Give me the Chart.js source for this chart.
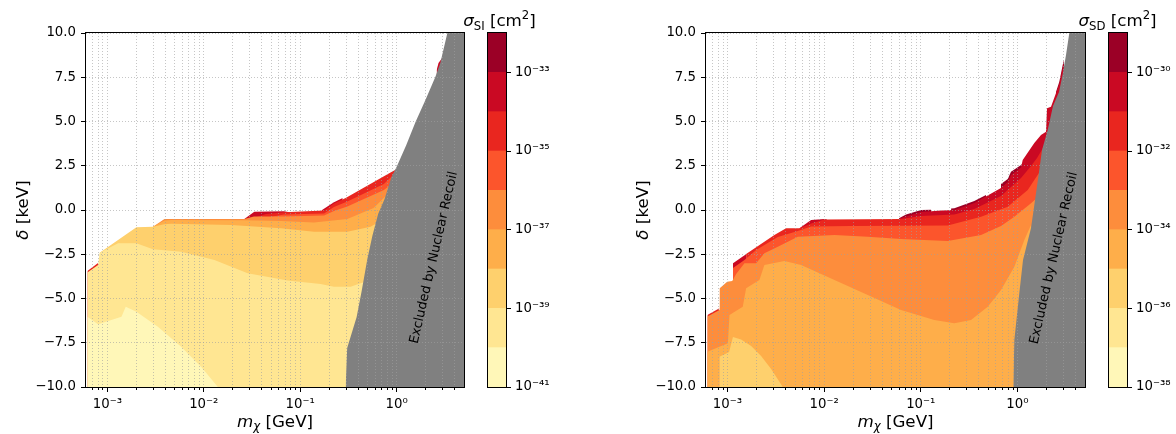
<!DOCTYPE html>
<html>
<head>
<meta charset="utf-8">
<script src="https://cdn.jsdelivr.net/npm/chart.js@4.4.1/dist/chart.umd.min.js"></script>
<style>
  html, body { margin: 0; padding: 0; background: #fff; }
  #wrap { position: relative; width: 1176px; height: 434px; overflow: hidden; }
  canvas { position: absolute; top: 0; }
</style>
</head>
<body>
<div id="wrap">
  <canvas id="siChart" width="480" height="434" style="left:0px"></canvas>
  <canvas id="siBar" width="150" height="434" style="left:440px"></canvas>
  <canvas id="sdChart" width="500" height="434" style="left:600px"></canvas>
  <canvas id="sdBar" width="116" height="434" style="left:1060px"></canvas>
</div>
<script>
// axes
const xMin = 6.2e-4, xMax = 5.0;
const xMajorTicks = [1e-3, 1e-2, 1e-1, 1];
const xTickLabels = ['10⁻³', '10⁻²', '10⁻¹', '10⁰'];
const xMinorTicks = [7e-4, 8e-4, 9e-4, 2e-3, 3e-3, 4e-3, 5e-3, 6e-3, 7e-3, 8e-3, 9e-3,
  2e-2, 3e-2, 4e-2, 5e-2, 6e-2, 7e-2, 8e-2, 9e-2, 0.2, 0.3, 0.4, 0.5, 0.6, 0.7, 0.8, 0.9, 2, 3, 4];
const yTicks = [-10, -7.5, -5, -2.5, 0, 2.5, 5, 7.5, 10];
const yTickLabels = ['−10.0', '−7.5', '−5.0', '−2.5', '0.0', '2.5', '5.0', '7.5', '10.0'];

// contour levels (log10 cm^2), lowest first
const bandColors = ['#fff7b8', '#ffe692', '#fed06d', '#feae4a', '#fd8d3c', '#fc552c', '#e9261f', '#ca0923', '#9b0026'];
const siLevels = [-41, -40, -39, -38, -37, -36, -35, -34, -33, -32];
const siCbarTicks = [-41, -39, -37, -35, -33];
const siCbarLabels = ['10⁻⁴¹', '10⁻³⁹', '10⁻³⁷', '10⁻³⁵', '10⁻³³'];
const sdLevels = [-38, -37, -36, -35, -34, -33, -32, -31, -30, -29];
const sdCbarTicks = [-38, -36, -34, -32, -30];
const sdCbarLabels = ['10⁻³⁸', '10⁻³⁶', '10⁻³⁴', '10⁻³²', '10⁻³⁰'];

// SI: upper edge of each level band (mass GeV, delta keV), null = gap
const si0Mass = [6.2e-4, 8.0e-4, 1.4e-3, 1.55e-3, 2.0e-3, 3.34e-3, 5.82e-3, 9.38e-3, 1.40e-2];
const si0Delta = [-6.03, -6.46, -6.03, -5.46, -5.75, -6.59, -7.72, -8.85, -10];
const si1Mass = [6.2e-4, 8.0e-4, 8.32e-4, 1.29e-3, 2.0e-3, 2.97e-3, 5.82e-3, 1.29e-2, 2.85e-2, 7.39e-2, 0.163, 0.224, 0.333, 0.423, 0.537];
const si1Delta = [-3.53, -3.11, -2.41, -1.88, -1.88, -2.22, -2.36, -2.82, -3.58, -3.99, -4.18, -4.33, -4.33, -4.14, -3.95];
const si2Mass = [8.32e-4, 2.0e-3, 2.97e-3, 3.89e-3, 4.59e-3, 1.92e-2, 6.30e-2, 0.139, 0.308, 0.537, 0.650];
const si2Delta = [-2.41, -0.98, -0.94, -0.80, -0.78, -0.85, -1.03, -1.23, -1.23, -0.94, -0.68];
const si3Mass = [2.97e-3, 3.91e-3, 4.59e-3, 2.63e-2, 6.30e-2, 0.139, 0.308, 0.577, 0.737, 0.824];
const si3Delta = [-0.94, -0.59, -0.56, -0.58, -0.62, -0.70, -0.51, 0.11, 0.68, 0.90];
const si4Mass = [2.97e-3, 3.91e-3, 2.63e-2, 3.31e-2, 6.77e-2, 0.177, 0.224, 0.308, 0.737, 0.951];
const si4Delta = [-0.94, -0.51, -0.51, -0.37, -0.37, -0.31, -0.06, 0.20, 1.13, 1.58];
const si5Mass = [3.73e-2, 6.77e-2, 0.177, 0.224, 0.308, 0.737, 0.997];
const si5Delta = [-0.51, -0.26, -0.20, 0.17, 0.48, 1.47, 2.15];
const si6Mass = [6.2e-4, 8.0e-4, 8.1e-4, 2.94e-2, 4.41e-2, 6.77e-2, 0.177, 0.224, 0.296, 0.865, 1.02];
const si6Delta = [-3.45, -3.0, null, -0.53, -0.23, -0.13, -0.03, 0.37, 0.68, 2.12, 2.33];
const si7Mass = [2.63e-2, 3.34e-2, 6.77e-2, 7.99e-2, 8.5e-2, 0.167, 0.224, 0.276, 0.28, 2.60, 2.72, 2.98, 3.05];
const si7Delta = [-0.51, -0.10, -0.07, -0.14, null, -0.01, 0.435, 0.68, null, 7.9, 8.3, 8.6, 8.5];
const siExclMass = [0.296, 0.307, 0.385, 0.434, 0.497, 0.560, 0.643, 0.750, 0.885, 1.01, 1.26, 1.57, 1.99, 2.52, 2.84, 3.36, 5.0];
const siExclDelta = [-10, -7.8, -6.05, -4.58, -2.77, -1.47, -0.23, 0.62, 1.86, 2.49, 3.67, 4.97, 6.21, 7.51, 8.31, 10, 10];

// SD
const sd2Mass = [8.26e-4, 8.26e-4, 9.69e-4, 1.04e-3, 1.14e-3, 1.385e-3, 1.76e-3, 2.23e-3, 2.83e-3, 3.74e-3];
const sd2Delta = [-10, -8.29, -8.11, -8.02, -7.18, -7.32, -7.68, -8.25, -8.98, -10];
const sd3Mass = [6.2e-4, 8.26e-4, 1.01e-3, 1.05e-3, 1.44e-3, 1.56e-3, 2.14e-3, 2.41e-3, 3.89e-3, 5.78e-3, 1.28e-2, 2.83e-2, 6.25e-2, 0.138, 0.2225, 0.331, 0.493, 0.676, 0.929, 1.178, 1.382];
const sd3Delta = [-8.01, -7.72, -7.53, -5.93, -5.46, -4.42, -3.95, -3.11, -2.88, -3.11, -3.95, -4.80, -5.65, -6.21, -6.40, -6.21, -5.46, -4.52, -3.20, -1.69, -0.85];
const sd4Mass = [6.2e-4, 8.26e-4, 8.32e-4, 9.93e-4, 1.12e-3, 1.23e-3, 1.50e-3, 1.98e-3, 2.41e-3, 3.32e-3, 5.34e-3, 1.28e-2, 2.83e-2, 6.25e-2, 0.190, 0.420, 0.676, 0.929, 1.382, 1.594];
const sd4Delta = [-6.02, -5.65, -4.42, -4.05, -4.01, -3.62, -3.01, -3.01, -2.45, -2.07, -1.51, -1.41, -1.51, -1.64, -1.75, -1.41, -0.90, -0.38, 0.38, 0.68];
const sd5Mass = [1.14e-3, 1.50e-3, 1.98e-3, 2.51e-3, 3.32e-3, 5.34e-3, 7.34e-3, 1.90e-2, 0.190, 0.420, 0.794, 1.278, 1.495, 1.753];
const sd5Delta = [-3.28, -2.82, -2.26, -1.92, -1.53, -1.19, -0.93, -0.90, -0.88, -0.38, 0.19, 1.13, 1.69, 2.26];
const sd6Mass = [6.2e-4, 8.26e-4, 9e-4, 1.56e-3, 3.06e-3, 4.04e-3, 5.55e-3, 7.34e-3, 1.00e-2, 6.25e-2, 0.1007, 0.2225, 0.358, 0.676, 0.858, 1.089, 1.382, 1.594, 1.839];
const sd6Delta = [-5.93, -5.55, null, -2.49, -1.41, -1.03, -1.03, -0.76, -0.54, -0.51, -0.34, -0.25, 0.06, 0.79, 1.30, 1.81, 2.49, 2.94, 3.50];
const sd7Mass = [1.14e-3, 1.56e-3, 1.6e-3, 5.55e-3, 7.34e-3, 1.00e-2, 1.07e-2, 1.1e-2, 5.96e-2, 0.1007, 0.162, 0.2225, 0.358, 0.676, 0.794, 0.858, 1.089, 1.134, 1.495, 1.753, 1.975, 2.023, 2.225, 2.711, 2.940, 3.032];
const sd7Delta = [-3.01, -2.49, null, -1.03, -0.56, -0.51, -0.53, null, -0.48, -0.11, -0.03, 0.0, 0.40, 1.24, 1.58, 1.98, 2.40, 2.82, 3.79, 4.24, 4.42, 5.75, 5.84, 7.12, 8.02, 8.31];
const sd8Mass = [5.96e-2, 7.05e-2, 0.1007, 0.1278, 0.15, 0.206, 0.2225, 0.358, 0.473, 0.5, 0.676, 0.794, 0.858, 1.089, 1.227, 1.3, 2.506, 2.711, 2.940, 3.032];
const sd8Delta = [-0.47, -0.25, 0.0, 0.02, null, 0.085, 0.10, 0.51, 0.85, null, 1.47, 1.75, 2.16, 2.54, 2.82, null, 6.67, 7.25, 8.19, 8.47];
const sdExclMass = [0.907, 0.929, 1.046, 1.142, 1.382, 1.495, 1.672, 1.796, 2.057, 2.333, 2.692, 2.940, 3.18, 3.44, 5.0];
const sdExclDelta = [-10, -7.34, -4.69, -2.82, -1.02, 0.28, 2.15, 3.39, 4.52, 5.88, 6.67, 7.68, 8.76, 10, 10];

const FONT = "'DejaVu Sans', sans-serif";
const gridColor = 'rgba(160,160,160,0.75)';
const exclColor = '#808080';
const it = s => 'italic ' + s + 'px ' + FONT;
const rm = s => s + 'px ' + FONT;

const isMajor = v => xMajorTicks.some(t => Math.abs(t - v) / t < 1e-6);

function drawRich(ctx, runs, x, y, angle) {
  ctx.save();
  ctx.translate(x, y);
  if (angle) ctx.rotate(angle);
  ctx.fillStyle = '#000';
  ctx.textBaseline = 'alphabetic';
  ctx.textAlign = 'left';
  let w = 0;
  runs.forEach(r => { ctx.font = r.f; r.w = ctx.measureText(r.t).width; w += r.w; });
  let cx = -w / 2;
  runs.forEach(r => { ctx.font = r.f; ctx.fillText(r.t, cx, r.dy || 0); cx += r.w; });
  ctx.restore();
}

function frame(chart) {
  const a = chart.chartArea, ctx = chart.ctx;
  ctx.save();
  ctx.strokeStyle = '#000';
  ctx.lineWidth = 1;
  ctx.strokeRect(a.left - 0.5, a.top - 0.5, a.right - a.left + 1, a.bottom - a.top + 1);
  ctx.restore();
}

function area(mass, delta, color) {
  return {
    data: mass.map((m, i) => ({ x: m, y: delta[i] })),
    backgroundColor: color,
    borderColor: 'rgba(0,0,0,0)',
    borderWidth: 0,
    pointRadius: 0,
    fill: 'start',
    tension: 0,
    spanGaps: false
  };
}

function makeMain(id, bands, exclM, exclD, yAxisWidth, padRight, yTitleX, excl) {
  const datasets = [area(exclM, exclD, exclColor)];
  bands.forEach(b => datasets.push(area(b[0], b[1], bandColors[b[2]])));
  new Chart(document.getElementById(id), {
    type: 'line',
    data: { datasets },
    options: {
      responsive: false, animation: false, events: [],
      layout: { padding: { left: 0, top: 33, right: padRight, bottom: 0 } },
      plugins: { legend: { display: false }, tooltip: { enabled: false } },
      scales: {
        x: {
          type: 'logarithmic', min: xMin, max: xMax,
          afterBuildTicks: s => { s.ticks = xMajorTicks.concat(xMinorTicks).sort((a, b) => a - b).map(v => ({ value: v })); },
          afterFit: s => { s.height = 47; },
          grid: { color: gridColor, lineWidth: 0.8, z: 1, tickLength: 5, tickColor: '#000', tickWidth: 1,
                  tickBorderDash: c => (c.tick && isMajor(c.tick.value)) ? [] : [3, 10] },
          border: { display: false, dash: [1, 2] },
          ticks: { autoSkip: false, maxRotation: 0, padding: 5, color: '#000', font: { family: FONT, size: 13.3 },
                   callback: v => { const i = xMajorTicks.findIndex(t => Math.abs(t - v) / t < 1e-6); return i >= 0 ? xTickLabels[i] : ''; } }
        },
        y: {
          type: 'linear', min: -10, max: 10,
          afterBuildTicks: s => { s.ticks = yTicks.map(v => ({ value: v })); },
          afterFit: s => { s.width = yAxisWidth; },
          grid: { color: gridColor, lineWidth: 0.8, z: 1, tickLength: 5, tickColor: '#000', tickWidth: 1 },
          border: { display: false, dash: [1, 2] },
          ticks: { autoSkip: false, padding: 5, color: '#000', font: { family: FONT, size: 13.3 },
                   callback: v => yTickLabels[yTicks.indexOf(v)] }
        }
      }
    },
    plugins: [{
      id: 'decor',
      afterDraw(chart) {
        const a = chart.chartArea, ctx = chart.ctx;
        frame(chart);
        drawRich(ctx, [{ t: 'm', f: it(16.7) }, { t: 'χ', f: it(11.7), dy: 3.5 }, { t: ' [GeV]', f: rm(16.7) }],
                 (a.left + a.right) / 2, 426.5);
        drawRich(ctx, [{ t: 'δ', f: it(16.7) }, { t: ' [keV]', f: rm(16.7) }],
                 yTitleX, (a.top + a.bottom) / 2, -Math.PI / 2);
        ctx.save();
        ctx.translate(excl.x, excl.y);
        ctx.rotate(-77 * Math.PI / 180);
        ctx.font = rm(13);
        ctx.fillStyle = '#000';
        ctx.textAlign = 'center';
        ctx.textBaseline = 'middle';
        ctx.fillText('Excluded by Nuclear Recoil', 0, 0);
        ctx.restore();
      }
    }]
  });
}

function makeBar(id, levels, cTicks, cLabels, padLeft, axisWidth, tag, titleX) {
  const datasets = bandColors.map((c, i) => ({
    data: [[levels[i], levels[i + 1]]], backgroundColor: c, borderWidth: 0,
    barPercentage: 1, categoryPercentage: 1, grouped: false
  }));
  new Chart(document.getElementById(id), {
    type: 'bar',
    data: { labels: [''], datasets },
    options: {
      responsive: false, animation: false, events: [],
      layout: { padding: { left: padLeft, top: 33, right: 0, bottom: 47 } },
      plugins: { legend: { display: false }, tooltip: { enabled: false } },
      scales: {
        x: { display: false },
        y: {
          position: 'right', min: levels[0], max: levels[levels.length - 1],
          afterBuildTicks: s => { s.ticks = cTicks.map(v => ({ value: v })); },
          afterFit: s => { s.width = axisWidth; },
          grid: { drawOnChartArea: false, tickLength: 5, tickColor: '#000', tickWidth: 1 },
          border: { display: false },
          ticks: { autoSkip: false, padding: 4, color: '#000', font: { family: FONT, size: 13.3 },
                   callback: v => cLabels[cTicks.indexOf(v)] }
        }
      }
    },
    plugins: [{
      id: 'cbarDecor',
      afterDraw(chart) {
        frame(chart);
        drawRich(chart.ctx, [{ t: 'σ', f: it(16.7) }, { t: tag, f: rm(11.7), dy: 3.5 }, { t: ' [cm', f: rm(16.7) },
                             { t: '2', f: rm(11.7), dy: -7 }, { t: ']', f: rm(16.7) }], titleX, 26);
      }
    }]
  });
}

makeMain('siChart', [
  [si0Mass, si0Delta, 0], [si1Mass, si1Delta, 1], [si2Mass, si2Delta, 2], [si3Mass, si3Delta, 3],
  [si4Mass, si4Delta, 4], [si5Mass, si5Delta, 5], [si6Mass, si6Delta, 6], [si7Mass, si7Delta, 7]
], siExclMass, siExclDelta, 86, 16, 27.5, { x: 434, y: 257.5 });

makeMain('sdChart', [
  [sd2Mass, sd2Delta, 2], [sd3Mass, sd3Delta, 3], [sd4Mass, sd4Delta, 4], [sd5Mass, sd5Delta, 5],
  [sd6Mass, sd6Delta, 6], [sd7Mass, sd7Delta, 7], [sd8Mass, sd8Delta, 8]
], sdExclMass, sdExclDelta, 106, 15, 48, { x: 454, y: 258 });

makeBar('siBar', siLevels, siCbarTicks, siCbarLabels, 48, 84, 'SI', 59.5);
makeBar('sdBar', sdLevels, sdCbarTicks, sdCbarLabels, 49, 49, 'SD', 57.5);
</script>
</body>
</html>
